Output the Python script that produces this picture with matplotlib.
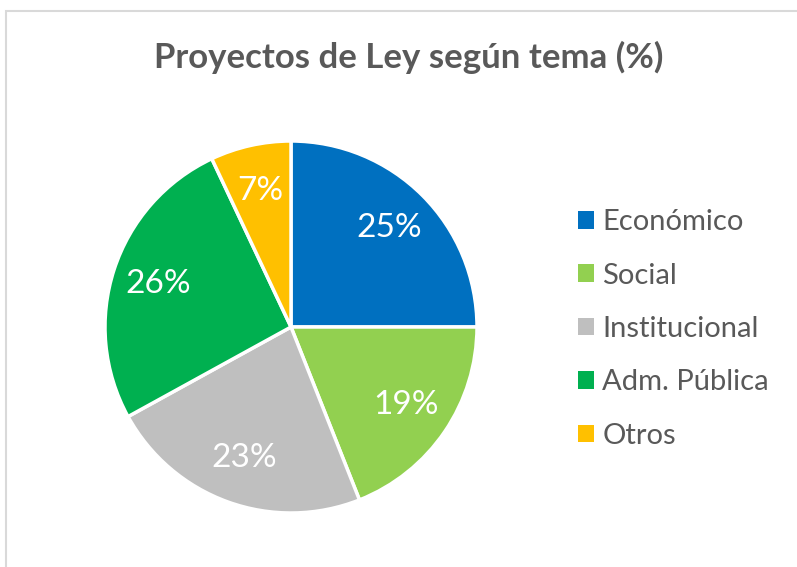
import matplotlib.pyplot as plt
from matplotlib.patches import Rectangle

temas = ["Económico", "Social", "Institucional", "Adm. Pública", "Otros"]
porcentajes = [25, 19, 23, 26, 7]
colores = ["#0070C0", "#92D050", "#BFBFBF", "#00B050", "#FFC000"]

plt.rcParams["font.family"] = ["Lato", "DejaVu Sans"]

W, H = 797, 567
fig = plt.figure(figsize=(W / 100, H / 100), dpi=100)

# borde gris del area del grafico
fig.patches.append(Rectangle((6 / W, -0.01), 1.0, (H - 11) / H + 0.01,
                             transform=fig.transFigure, fill=False,
                             edgecolor="#D9D9D9", linewidth=1.5))

# centro del pie (291, 327) px, radio 186 px
cx, cy, r = 291, 327, 186
ax = fig.add_axes([(cx - r) / W, (H - cy - r) / H, 2 * r / W, 2 * r / H])
wedges, textos, autotextos = ax.pie(
    porcentajes, colors=colores, startangle=90, counterclock=False,
    autopct="%1.0f%%", pctdistance=0.75, radius=1.0,
    wedgeprops=dict(edgecolor="white", linewidth=2.5),
    textprops=dict(color="white", fontsize=24))
ax.set_xlim(-1, 1)
ax.set_ylim(-1, 1)
ax.set_aspect("equal")

fig.text(409 / W, 1 - 57 / H, "Proyectos de Ley según tema (%)",
         ha="center", va="center", fontsize=25, fontweight="bold",
         color="#595959")

leg = fig.legend(wedges, temas, loc="center left", bbox_to_anchor=(566 / W, 1 - 329 / H),
                 frameon=False, fontsize=21, labelcolor="#595959",
                 handlelength=0.55, handleheight=0.55, handletextpad=0.3,
                 labelspacing=0.94, borderaxespad=0)
for h in leg.legend_handles:
    h.set_edgecolor("none")

fig.savefig("out.png", dpi=100)
